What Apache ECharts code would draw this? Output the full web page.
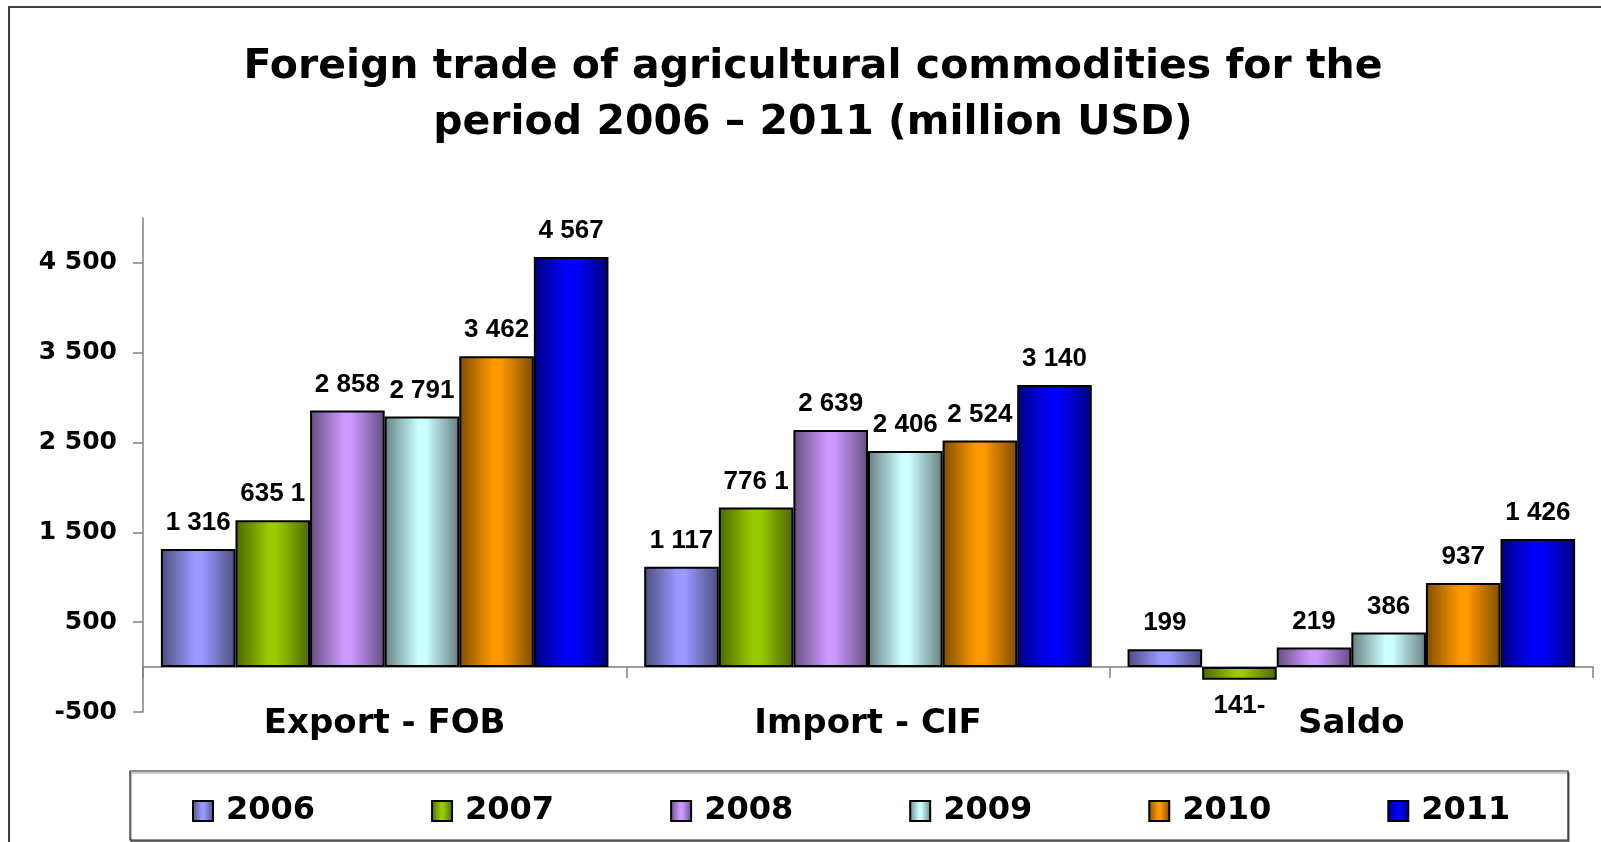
<!DOCTYPE html>
<html>
<head>
<meta charset="utf-8">
<title>Foreign trade of agricultural commodities</title>
<script src="https://cdn.jsdelivr.net/npm/echarts@6/dist/echarts.min.js"></script>
<style>
  html, body { margin: 0; padding: 0; background: #fff; }
  #chart { width: 1601px; height: 842px; }
</style>
</head>
<body>
<div id="chart"></div>
<script>
	// data (million USD)
	var categories = ['Export - FOB', 'Import - CIF', 'Saldo'];
	var years = ['2006', '2007', '2008', '2009', '2010', '2011'];
	var v2006 = [1316, 1117, 199];
	var v2007 = [1635, 1776, -141];
	var v2008 = [2858, 2639, 219];
	var v2009 = [2791, 2406, 386];
	var v2010 = [3462, 2524, 937];
	var v2011 = [4567, 3140, 1426];
	var yTicks = [-500, 500, 1500, 2500, 3500, 4500];

	// light centre / dark edge for every year
	var lightColors = ['#9999FF', '#99CC00', '#CC99FF', '#CCFFFF', '#FF9900', '#0000FF'];
	var darkColors = ['#4D4D80', '#4D6600', '#664D80', '#668080', '#804D00', '#000080'];

	var wideFont = 'DejaVu Sans';
	var narrowFont = 'Liberation Sans';

	function spaced(v) {
		var s = String(Math.abs(v)).replace(/\B(?=(\d{3})+(?!\d))/g, ' ');
		return (v < 0 ? '-' : '') + s;
	}
	// the 2007 labels come out mirrored in the original ("635 1", "141-")
	function mirrored(v) {
		var s = String(Math.abs(v)).replace(/\B(?=(\d{3})+(?!\d))/g, ' ');
		return s.split(' ').reverse().join(' ') + (v < 0 ? '-' : '');
	}

	function shade(i) {
		return new echarts.graphic.LinearGradient(0, 0, 1, 0, [
			{ offset: 0, color: darkColors[i] },
			{ offset: 0.45, color: lightColors[i] },
			{ offset: 0.55, color: lightColors[i] },
			{ offset: 1, color: darkColors[i] }
		]);
	}

	function makeSeries(name, values, i) {
		var fmt = name == '2007' ? mirrored : spaced;
		return {
			name: name,
			type: 'bar',
			barGap: '0%',
			barCategoryGap: '7.4%',
			itemStyle: {
				color: shade(i),
				borderColor: '#000',
				borderWidth: 2
			},
			label: {
				show: true,
				position: 'top',
				distance: 13,
				color: '#000',
				fontFamily: narrowFont,
				fontWeight: 'bold',
				fontSize: 26,
				formatter: function(p) { return fmt(p.value); }
			},
			data: values.map(function(v) {
				return v < 0 ? { value: v, label: { position: 'bottom' } } : v;
			})
		};
	}

	var allValues = [v2006, v2007, v2008, v2009, v2010, v2011];
	var series = [];
	for (var i = 0; i < years.length; i++) {
		series.push(makeSeries(years[i], allValues[i], i));
	}

	var chart = echarts.init(document.getElementById('chart'), null, { renderer: 'canvas' });
	chart.setOption({
		backgroundColor: '#fff',
		animation: false,
		title: {
			text: 'Foreign trade of agricultural commodities for the\nperiod 2006 \u2013 2011 (million USD)',
			left: 813,
			textAlign: 'center',
			top: 39,
			padding: 0,
			textStyle: {
				fontFamily: wideFont,
				fontWeight: 'bold',
				fontSize: 41,
				lineHeight: 56,
				color: '#000'
			}
		},
		graphic: [
			{
				type: 'rect',
				shape: { x: 9, y: 7, width: 1700, height: 900 },
				style: { fill: 'none', stroke: '#404040', lineWidth: 2 },
				silent: true
			},
			{
				type: 'rect',
				shape: { x: 130, y: 771, width: 1438, height: 69 },
				style: {
					fill: '#fff', stroke: '#222', lineWidth: 1.2,
					shadowColor: 'rgba(0,0,0,0.45)', shadowOffsetX: 1, shadowOffsetY: 2, shadowBlur: 1
				},
				z: -1,
				silent: true
			}
		],
		legend: {
			data: years,
			left: 187,
			top: 790,
			icon: 'rect',
			itemWidth: 20,
			itemHeight: 20,
			itemGap: 116,
			textStyle: {
				fontFamily: wideFont,
				fontWeight: 'bold',
				fontSize: 32,
				color: '#000',
				padding: [0, 0, 0, 8]
			}
		},
		grid: {
			left: 143,
			right: 8,
			top: 218,
			bottom: 130,
			containLabel: false
		},
		xAxis: {
			type: 'category',
			data: categories,
			axisLine: { onZero: true, lineStyle: { color: '#808080', width: 1.5 } },
			axisTick: { show: true, length: 11, lineStyle: { color: '#808080', width: 1.5 } },
			axisLabel: {
				margin: -5,
				color: '#000',
				fontFamily: wideFont,
				fontWeight: 'bold',
				fontSize: 34
			},
			splitLine: { show: false }
		},
		yAxis: {
			type: 'value',
			min: -500,
			max: 5000,
			interval: 1000,
			axisLine: { show: true, lineStyle: { color: '#808080', width: 1.5 } },
			axisTick: { show: true, length: 10, customValues: yTicks, lineStyle: { color: '#808080', width: 1.5 } },
			axisLabel: {
				customValues: yTicks,
				margin: 26,
				color: '#000',
				fontFamily: wideFont,
				fontWeight: 'bold',
				fontSize: 25,
				formatter: function(v) { return spaced(v); }
			},
			splitLine: { show: false }
		},
		series: series
	});
</script>
</body>
</html>
